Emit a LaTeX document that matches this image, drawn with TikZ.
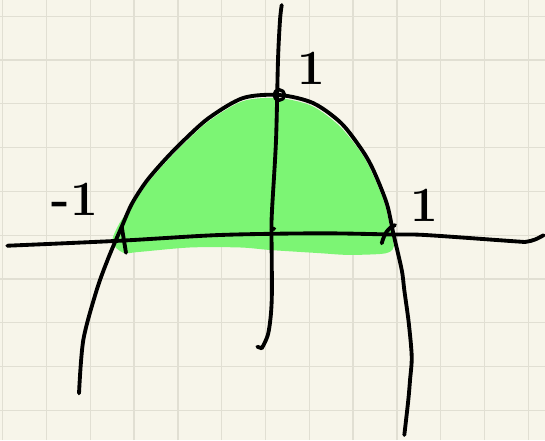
\documentclass[tikz,border=0pt]{standalone}
\usepackage{tikz}
\usetikzlibrary{calc}
\definecolor{PAPER}{RGB}{247, 245, 234}
\definecolor{GRID-LINE}{RGB}{225, 223, 211}
\definecolor{SHADE-GREEN}{RGB}{124, 245, 116}

\tikzset{
  pen/.style={line width=2.5pt, line cap=round, line join=round},
  digit/.style={font=\fontsize{32}{38}\selectfont\bfseries, inner sep=0pt},
}

\begin{document}
\begin{tikzpicture}
  % Paper and grid
  \useasboundingbox (-6.062,-4.676) rectangle (6.381,5.370);
  \fill[PAPER] (-6.062,-4.676) rectangle (6.381,5.370);
  \draw[GRID-LINE, line width=0.85pt] (-6.062,-4.676) grid (6.381,5.370);

  % Shaded region under the curve
  \fill[SHADE-GREEN] plot[smooth cycle, tension=0.5] coordinates {
    (-3.50,-0.15) (-3.33,0.28) (-3.05,0.66) (-2.72,1.15) (-2.30,1.64)
    (-1.85,2.10) (-1.30,2.60)
    (-0.52,3.06) (0.30,3.13) (1.06,2.95) (1.68,2.50) (2.17,1.90)
    (2.43,1.43) (2.72,0.72) (2.87,0.05) (2.93,-0.25) (2.84,-0.38)
    (2.60,-0.43) (1.88,-0.45) (1.24,-0.41) (0.13,-0.34) (-0.58,-0.28)
    (-1.72,-0.28) (-2.87,-0.38) (-3.25,-0.40)};

  % x-axis
  \draw[pen] plot[smooth] coordinates {
    (-5.895,-0.24) (-3.322,-0.126) (-1.039,0.005) (1.244,0.043)
    (2.911,0.016) (3.642,0.005) (5.70,-0.14) (5.95,-0.15) (6.15,-0.10) (6.35,0.0)};

  % y-axis
  \draw[pen] plot[smooth] coordinates {
    (0.370,5.256) (0.331,4.913) (0.285,4.0) (0.240,2.174) (0.15,0.6)
    (0.137,0.119) (0.142,-1.479) (0.064,-2.233) (-0.087,-2.582)} -- (-0.187,-2.546);

  % Parabola
  \draw[pen] plot[smooth] coordinates {
    (-4.258,-3.610) (-4.160,-2.393) (-3.854,-1.251) (-3.58,-0.50)
    (-3.283,0.194) (-3.05,0.72) (-2.72,1.23) (-2.30,1.72) (-1.85,2.18)
    (-1.290,2.680) (-0.514,3.132) (0.315,3.201) (1.084,3.018)
    (1.724,2.562) (2.200,1.95) (2.461,1.489) (2.767,0.728)
    (2.918,0.043) (3.110,-0.795) (3.169,-1.256) (3.27,-2.0)
    (3.338,-2.774) (3.30,-3.3) (3.260,-3.763) (3.169,-4.562)};

  % Ticks on the axes
  \draw[pen] (-3.283,0.194) -- (-3.185,-0.402);
  \draw[pen] (0.14,0.14) -- (0.20,0.15);
  \draw[pen] (2.653,-0.185) .. controls (2.72,0.05) and (2.80,0.17) .. (2.957,0.233);

  % Vertex
  \coordinate (top) at (0.315,3.201);
  \draw[pen, line width=2.2pt] (top) circle (0.12);

  % Labels
  \node[digit] (lblLeft) at (-4.349,0.826) {-1};
  \node[digit] (lblTop) at (1.055,3.811) {1};
  \node[digit] (lblRight) at (3.623,0.671) {1};
\end{tikzpicture}
\end{document}
